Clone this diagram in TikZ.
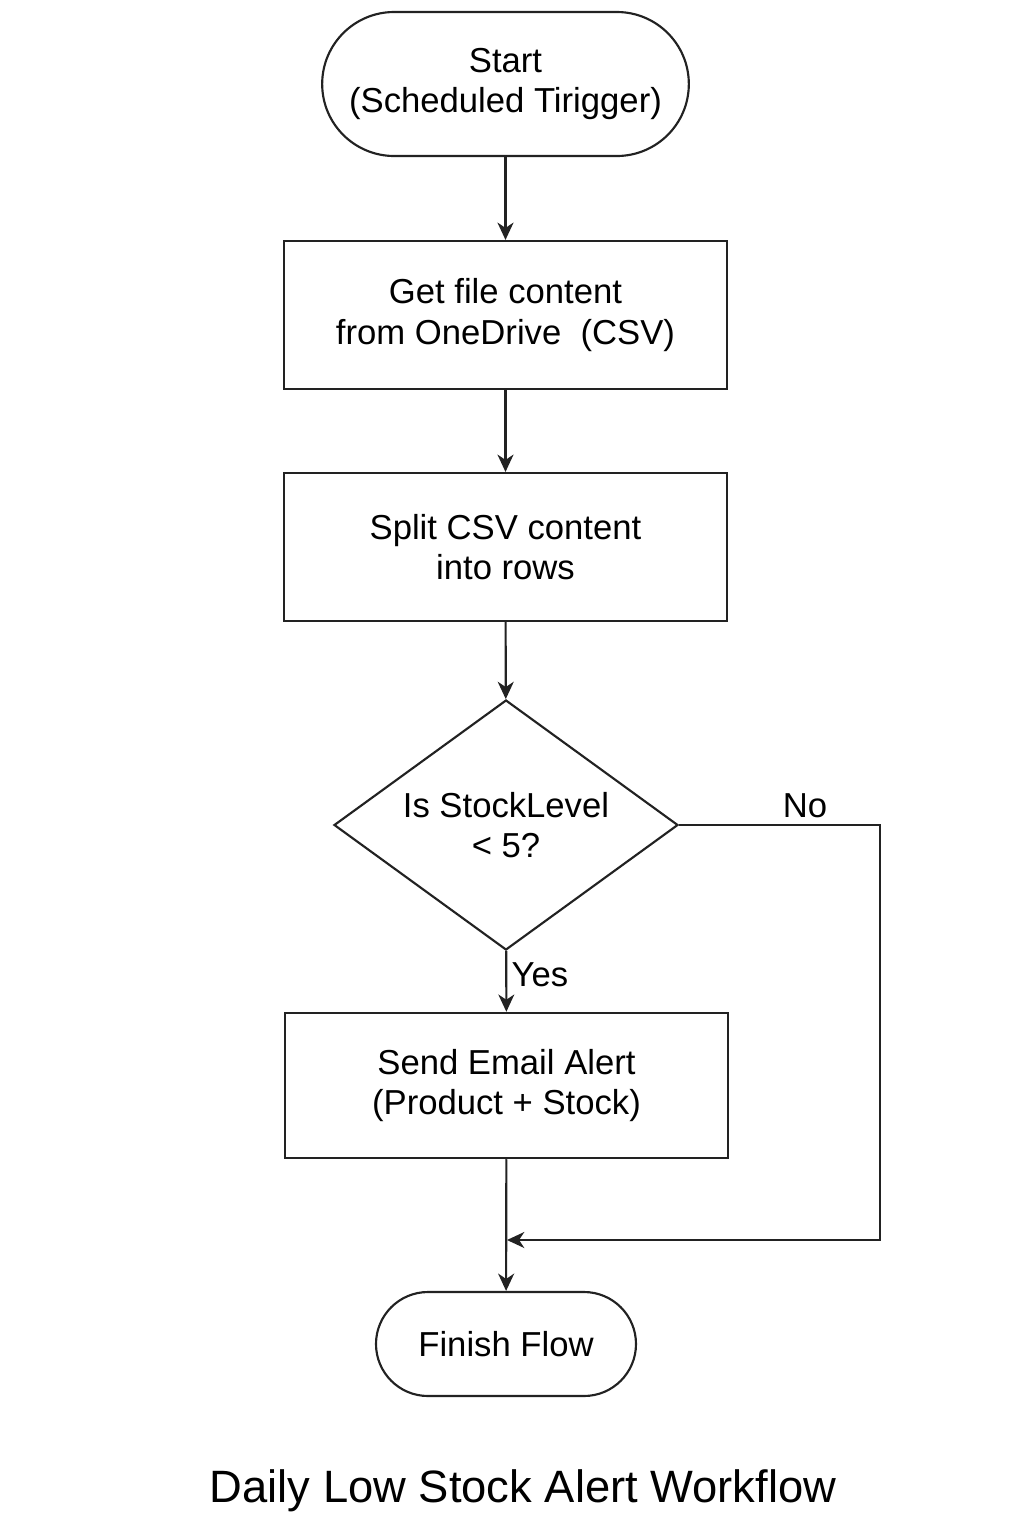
\documentclass[tikz,border=0pt]{standalone}
\usepackage{fontspec}
\setmainfont{Liberation Sans}
\usetikzlibrary{shapes.geometric,arrows.meta}

\definecolor{inkgray}{RGB}{34,34,34}

\tikzset{
  flowline/.style={line width=1.6pt, color=inkgray},
  flowarrow/.style={flowline, -{Stealth[length=13pt,width=12pt,inset=4pt]}},
  stepbox/.style={draw=inkgray, line width=1.6pt, rectangle, align=center,
    minimum width=332pt, minimum height=111pt, inner sep=0pt},
  termbox/.style={draw=inkgray, line width=1.6pt, rectangle, align=center, inner sep=0pt},
  decbox/.style={draw=inkgray, line width=1.6pt, diamond, align=center, shape aspect=1.376,
    minimum width=258pt, minimum height=187.5pt, inner sep=0pt},
  flowtext/.style={font=\fontsize{26}{30.5}\selectfont},
}

\begin{document}
\begin{tikzpicture}[x=0.75pt,y=0.75pt,yscale=-1,xscale=1]
%set diagram to the size of the page
\useasboundingbox (0,0) rectangle (1024,1536);

% Terminal: start
\node (start) [termbox, flowtext, minimum width=275pt, minimum height=108pt, rounded corners=54pt] at (505.5,84) {Start\\(Scheduled Tirigger)};
% Process boxes
\node (getfile) [stepbox, flowtext] at (505.5,315) {Get file content\\from OneDrive\ \ (CSV)};
\node (split) [stepbox, flowtext] at (505.5,547) {Split CSV content\\into rows};
% Decision
\node (check) [decbox, flowtext] at (506,825) {Is StockLevel\\\textless\ 5?};
\node (email) [stepbox, flowtext, minimum height=109pt] at (506.5,1085.5) {Send Email Alert\\(Product + Stock)};
% Terminal: finish
\node (finish) [termbox, flowtext, minimum width=195pt, minimum height=78pt, rounded corners=39pt] at (506,1344) {Finish Flow};

% Connectors
\draw [flowarrow] (start) -- (getfile);
\draw [flowarrow] (getfile) -- (split);
\draw [flowarrow] (split) -- (check);
\draw [flowarrow] (check) -- (email);
\draw [flowarrow] (email) -- (finish);
% No branch, back to the main line
\coordinate (nojoin) at (507,1240);
\coordinate (nocorner) at (880,1240);
\draw [flowarrow] (check.east) -| (nocorner) -- (nojoin);

% Text Node
\node (yeslbl) [flowtext] at (540,975) {Yes};
% Text Node
\node (nolbl) [flowtext] at (805,806) {No};
% Text Node
\node (title) [font=\fontsize{34}{40}\selectfont] at (523,1491) {Daily Low Stock Alert Workflow};

\end{tikzpicture}
\end{document}
